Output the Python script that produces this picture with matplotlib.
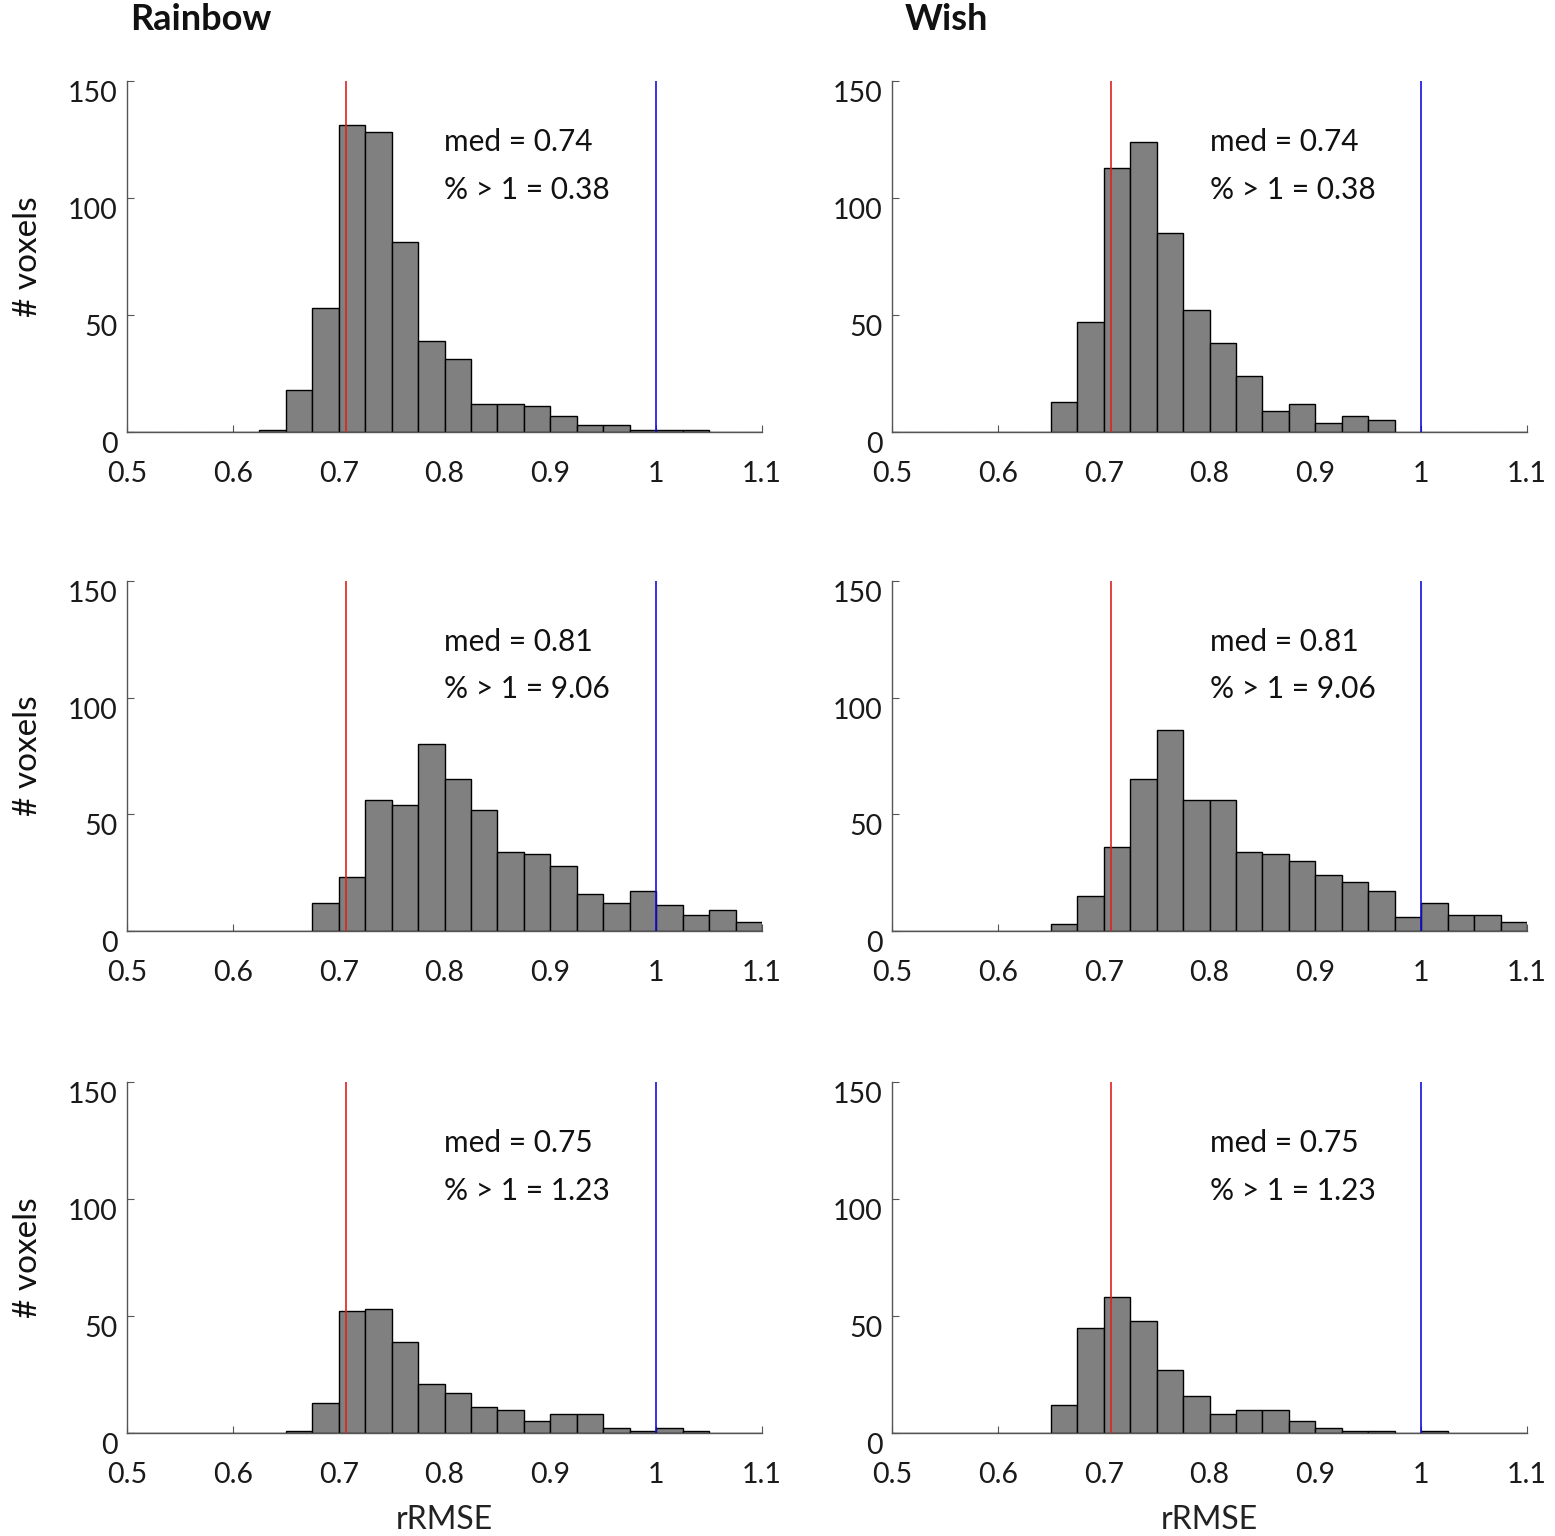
import numpy as np
import matplotlib
matplotlib.use("Agg")
import matplotlib.pyplot as plt

plt.rcParams['font.family'] = ['Lato', 'DejaVu Sans']

# histogram bins (rRMSE), 0.5 to 1.1 in steps of 0.025
bin_edges = np.linspace(0.5, 1.1, 25)

# voxel counts per bin
rainbow_1 = [0, 0, 0, 0, 0, 1, 18, 53, 131, 128, 81, 39, 31, 12, 12, 11, 7, 3, 3, 1, 1, 1, 0, 0]
wish_1 = [0, 0, 0, 0, 0, 0, 13, 47, 113, 124, 85, 52, 38, 24, 9, 12, 4, 7, 5, 0, 0, 0, 0, 0]
rainbow_2 = [0, 0, 0, 0, 0, 0, 0, 12, 23, 56, 54, 80, 65, 52, 34, 33, 28, 16, 12, 17, 11, 7, 9, 4]
wish_2 = [0, 0, 0, 0, 0, 0, 3, 15, 36, 65, 86, 56, 56, 34, 33, 30, 24, 21, 17, 6, 12, 7, 7, 4]
rainbow_3 = [0, 0, 0, 0, 0, 0, 1, 13, 52, 53, 39, 21, 17, 11, 10, 5, 8, 8, 2, 1, 2, 1, 0, 0]
wish_3 = [0, 0, 0, 0, 0, 0, 12, 45, 58, 48, 27, 16, 8, 10, 10, 5, 2, 1, 1, 0, 1, 0, 0, 0]

med_text = ["med = 0.74", "med = 0.81", "med = 0.75"]
pct_text = ["% > 1 = 0.38", "% > 1 = 9.06", "% > 1 = 1.23"]
col_titles = ["Rainbow", "Wish"]

red_line = 0.707
blue_line = 1.0

xticks = [0.5, 0.6, 0.7, 0.8, 0.9, 1.0, 1.1]
xticklabels = ["0.5", "0.6", "0.7", "0.8", "0.9", "1", "1.1"]
yticks = [0, 50, 100, 150]

W, H = 1555, 1536
fig = plt.figure(figsize=(W / 100, H / 100), dpi=100)

# axes boxes in pixels: (left, right), (top, bottom)
cols = [(127, 762), (892, 1527)]
rows = [(81, 432), (581, 931), (1082, 1433)]
title_x = [130, 905]

data = [[rainbow_1, wish_1], [rainbow_2, wish_2], [rainbow_3, wish_3]]

for r in range(3):
    for c in range(2):
        x0, x1 = cols[c]
        y0, y1 = rows[r]
        ax = fig.add_axes([x0 / W, 1 - y1 / H, (x1 - x0) / W, (y1 - y0) / H])
        ax.bar(bin_edges[:-1], data[r][c], width=0.025, align='edge',
               color='#808080', edgecolor='black', linewidth=1.0, zorder=2)
        ax.axvline(red_line, color='#e02020', linewidth=1.2, zorder=3)
        ax.axvline(blue_line, color='#1010e0', linewidth=1.2, zorder=3)
        ax.set_xlim(0.5, 1.1)
        ax.set_ylim(0, 150)
        ax.set_xticks(xticks)
        ax.set_xticklabels(xticklabels)
        ax.set_yticks(yticks)
        for lab in ax.get_yticklabels():
            lab.set_verticalalignment('top')
        ax.tick_params(direction='in', length=5, width=0.8, color='#555555',
                       labelsize=20.5, labelcolor='#1a1a1a')
        ax.tick_params(axis='x', pad=21)
        ax.tick_params(axis='y', pad=7)
        ax.spines['top'].set_visible(False)
        ax.spines['right'].set_visible(False)
        for s in ['left', 'bottom']:
            ax.spines[s].set_color('#555555')
            ax.spines[s].set_linewidth(1.0)
        ax.patch.set_visible(False)
        ax.text(0.8, 124, med_text[r], fontsize=21.5, va='center', ha='left', color='#111111')
        ax.text(0.8, 103.5, pct_text[r], fontsize=21.5, va='center', ha='left', color='#111111')
        if c == 0:
            ax.set_ylabel("# voxels", fontsize=24, color='#111111', labelpad=18)
        if r == 2:
            ax.set_xlabel("rRMSE", fontsize=23, color='#222222', labelpad=12)

for c in range(2):
    fig.text(title_x[c] / W, 1 - 20 / H, col_titles[c], fontsize=26,
             fontweight='bold', ha='left', va='center', color='#111111')

fig.savefig("out.png", dpi=100)
